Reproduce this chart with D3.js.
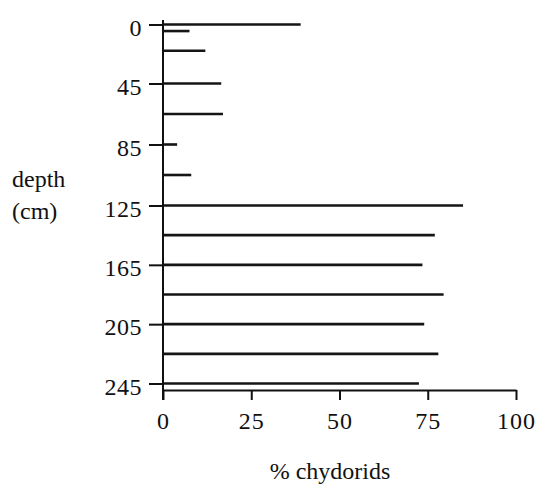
<!DOCTYPE html>
<html>
<head>
<meta charset="utf-8">
<script src="https://cdn.jsdelivr.net/npm/d3@7"></script>
<style>
  body { margin: 0; background: #fff; }
</style>
</head>
<body>
<div class="chart"></div>
<script>
// depth of each sample (cm) and % chydorids at that depth
var depths = [0, 5, 20, 45, 65, 85, 105, 125, 145, 165, 185, 205, 225, 245];
var chydorids = [39, 7.5, 12, 16.5, 17, 4, 8, 85, 77, 73.5, 79.5, 74, 78, 72.5];
var depthTicks = [0, 45, 85, 125, 165, 205, 245];
var pctTicks = [0, 25, 50, 75, 100];

function init() {
  var w = 539;
  var h = 487;
  var serif = "\"Liberation Serif\"";

  var xScale = d3.scaleLinear()
    .domain([0, 100])
    .range([163, 516]);

  // the printed depth axis is not quite even, so piecewise
  var yScale = d3.scaleLinear()
    .domain([0, 45, 125, 245])
    .range([24.5, 83.5, 205.5, 383.5]);

  var axisY = 390;

  var svg = d3.select(".chart")
    .append("svg")
    .attr("width", w)
    .attr("height", h);

  // bars as thick horizontal lines
  svg.selectAll("line.bar")
    .data(depths)
    .enter()
    .append("line")
    .attr("class", "bar")
    .attr("x1", xScale(0))
    .attr("x2", function(d, i) { return xScale(chydorids[i]); })
    .attr("y1", function(d) { return yScale(d); })
    .attr("y2", function(d) { return yScale(d); })
    .attr("stroke", "#151515")
    .attr("stroke-width", 2.6);

  // x axis
  var xAxis = svg.append("g")
    .attr("transform", "translate(0," + axisY + ")")
    .call(d3.axisBottom(xScale).tickValues(pctTicks).tickSize(10).tickSizeOuter(0));
  xAxis.select(".domain").attr("stroke", "#111").attr("stroke-width", 2);
  xAxis.selectAll(".tick line").attr("stroke", "#111").attr("stroke-width", 2);
  xAxis.selectAll(".tick text")
    .attr("y", 39)
    .attr("dy", 0)
    .attr("fill", "#111")
    .style("font-family", serif)
    .style("font-size", "24px")
    .style("letter-spacing", "1px");

  // y axis
  var yAxis = svg.append("g")
    .attr("transform", "translate(" + xScale(0) + ",0)")
    .call(d3.axisLeft(yScale).tickValues(depthTicks).tickSize(14).tickSizeOuter(0));
  yAxis.select(".domain").remove();
  yAxis.selectAll(".tick line").attr("stroke", "#111").attr("stroke-width", 2);
  yAxis.selectAll(".tick text")
    .attr("x", -21)
    .attr("dy", "0.45em")
    .attr("fill", "#111")
    .style("font-family", serif)
    .style("font-size", "24px")
    .style("letter-spacing", "0.5px");

  svg.append("line")
    .attr("x1", xScale(0))
    .attr("x2", xScale(0))
    .attr("y1", yScale(0) - 4.5)
    .attr("y2", axisY + 10)
    .attr("stroke", "#111")
    .attr("stroke-width", 2);

  // titles
  var titles = [
    { t: "depth", x: 12, y: 187, a: "start" },
    { t: "(cm)", x: 12, y: 219, a: "start" },
    { t: "% chydorids", x: 330, y: 479, a: "middle" }
  ];
  svg.selectAll("text.title")
    .data(titles)
    .enter()
    .append("text")
    .attr("class", "title")
    .attr("x", function(d) { return d.x; })
    .attr("y", function(d) { return d.y; })
    .attr("text-anchor", function(d) { return d.a; })
    .attr("fill", "#111")
    .style("font-family", serif)
    .style("font-size", "24px")
    .text(function(d) { return d.t; });
}

window.onload = init;
</script>
</body>
</html>
